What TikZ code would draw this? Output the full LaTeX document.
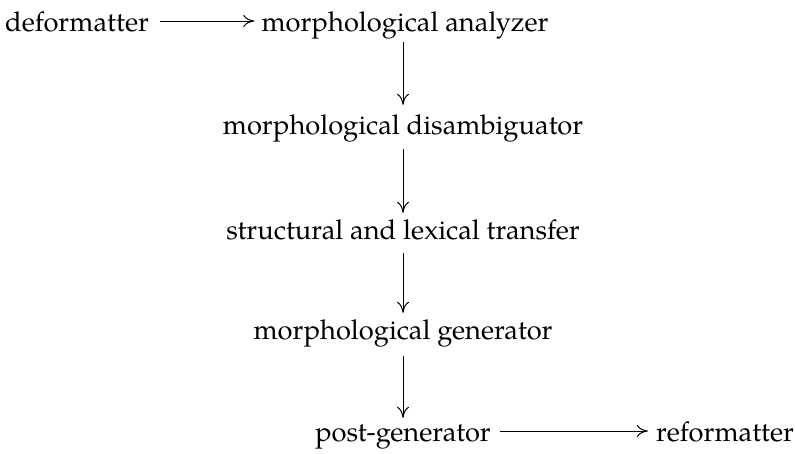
\documentclass[tikz,border=0pt]{standalone}
\usepackage{fontspec}
\setmainfont{TeX Gyre Pagella}
\usetikzlibrary{arrows.meta}
\begin{document}
\begin{tikzpicture}[x=1pt,y=-1pt,
  lbl/.style={inner sep=0pt,anchor=base,font=\fontsize{27.3}{30}\selectfont,text height=19pt,text depth=7pt},
  arr/.style={line width=1pt,-{To[length=11pt,width=12pt]}}]
\useasboundingbox (0,0) rectangle (795,453);
\node[lbl] (def) at (77,31) {deformatter};
\node[lbl] (an) at (405,31) {morphological analyzer};
\node[lbl] (dis) at (403,134) {morphological disambiguator};
\node[lbl] (tr) at (403,239) {structural and lexical transfer};
\node[lbl] (gen) at (403,339) {morphological generator};
\node[lbl] (post) at (403,441) {post-generator};
\node[lbl] (ref) at (725,441) {reformatter};
\draw[arr,shorten <=11pt,shorten >=7pt] ([yshift=4pt]def.east) -- ([yshift=4pt]an.west);
\draw[arr,shorten <=4pt,shorten >=10pt] (an.south -| dis.center) -- (dis.north);
\draw[arr,shorten <=8pt,shorten >=7pt] (dis) -- (tr);
\draw[arr,shorten <=7pt,shorten >=7pt] (tr) -- (gen);
\draw[arr,shorten <=10pt,shorten >=4pt] (gen) -- (post);
\draw[arr,shorten <=9pt,shorten >=8pt] ([yshift=4pt]post.east) -- ([yshift=4pt]ref.west);
\end{tikzpicture}
\end{document}
